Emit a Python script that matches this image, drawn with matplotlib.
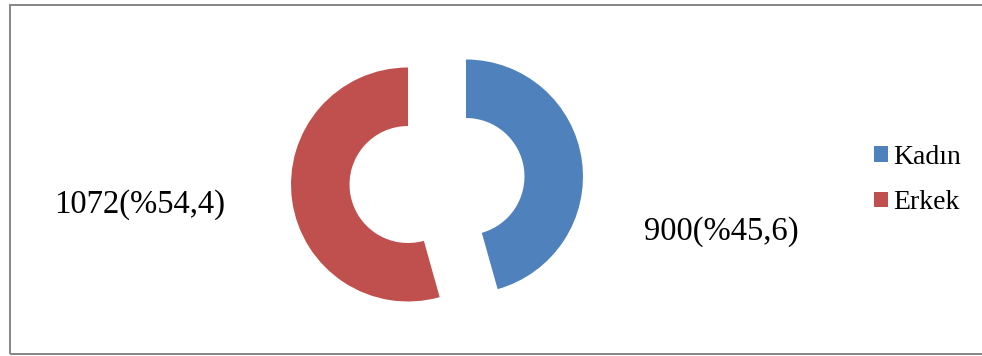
import matplotlib
matplotlib.use('Agg')
import matplotlib.pyplot as plt
from matplotlib.patches import Rectangle

plt.rcParams['font.family'] = ['Liberation Serif', 'DejaVu Serif']

# cinsiyet dagilimi
categories = ['Kadın', 'Erkek']
counts = [900, 1072]
colors = ['#4F81BD', '#C0504D']

total = sum(counts)
pct = [100.0 * c / total for c in counts]
labels = ['%d(%%%s)' % (c, ('%.1f' % p).replace('.', ',')) for c, p in zip(counts, pct)]

W, H = 982, 356
fig = plt.figure(figsize=(W / 100, H / 100), dpi=100)
ax = fig.add_axes([0, 0, 1, 1])

wedges, _ = ax.pie(counts, colors=colors, startangle=90, counterclock=False,
                   radius=1.0, explode=[0.25, 0.25],
                   wedgeprops=dict(width=0.5, edgecolor='none'))

# pixel scale: 1 data unit = 117 px, donut centre at (437, 180.5)
s, cx, cy = 117.0, 437.0, 180.5
ax.set_xlim(-cx / s, (W - cx) / s)
ax.set_ylim(-(H - cy) / s, cy / s)
ax.axis('off')

# value labels
ax.text(721 / W, 1 - 240 / H, labels[0], transform=ax.transAxes,
        ha='center', va='baseline', fontsize=23.5)
ax.text(139.5 / W, 1 - 212.7 / H, labels[1], transform=ax.transAxes,
        ha='center', va='baseline', fontsize=23.5)

# legend
ax.legend(wedges, categories, loc='center left',
          bbox_to_anchor=(874 / W, 1 - 180 / H), frameon=False,
          fontsize=20, handlelength=0.5, handleheight=0.5,
          handletextpad=0.2, labelspacing=0.75, borderpad=0,
          borderaxespad=0)

# chart area border
fig.patches.append(Rectangle((10 / W, 2 / H), 1.05, 1 - 7 / H,
                             transform=fig.transFigure, fill=False,
                             edgecolor='#868686', linewidth=1.4))

fig.savefig('out.png', dpi=100)
